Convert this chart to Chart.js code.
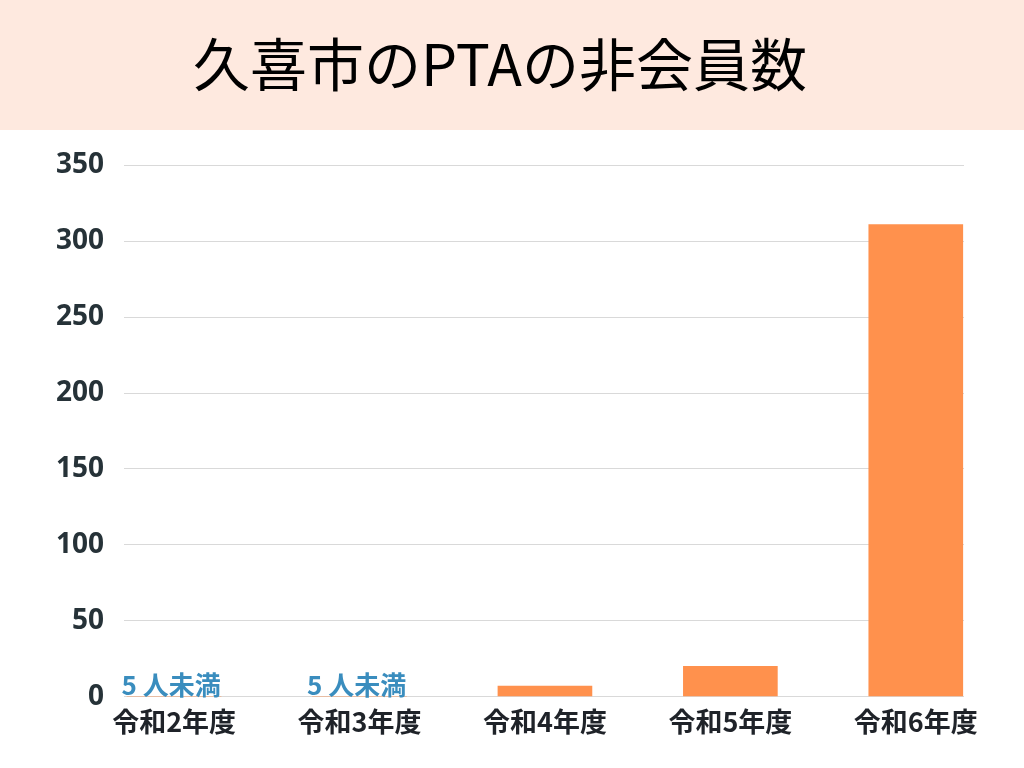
<!DOCTYPE html>
<html lang="ja">
<head>
<meta charset="utf-8">
<script src="https://cdn.jsdelivr.net/npm/chart.js@4/dist/chart.umd.min.js"></script>
<style>
  html, body { margin: 0; padding: 0; background: #fff; }
  #wrap { width: 1024px; height: 768px; }
</style>
</head>
<body>
<div id="wrap"><canvas id="kuki" width="1024" height="768"></canvas></div>
<script>
// 久喜市 PTA 非会員数
var years = ['令和2年度', '令和3年度', '令和4年度', '令和5年度', '令和6年度'];
var nonMembers = [0, 0, 7, 20, 311];
var notes = ['5 人未満', '5 人未満', '', '', ''];
var yTicks = [0, 50, 100, 150, 200, 250, 300, 350];

var titleText = '久喜市のPTAの非会員数';

// peach banner behind the title
var bannerPlugin = {
  id: 'banner',
  beforeDraw: function(chart){
    var ctx = chart.ctx;
    ctx.save();
    ctx.fillStyle = '#fee9df';
    ctx.fillRect(0, 0, chart.width, 130);
    ctx.restore();
  }
};

// "5人未満" notes sitting on the zero line
var notePlugin = {
  id: 'notes',
  afterDatasetsDraw: function(chart){
    var ctx = chart.ctx;
    var xs = chart.scales.x, ys = chart.scales.y;
    ctx.save();
    ctx.font = "bold 26px 'Noto Sans CJK JP'";
    ctx.fillStyle = '#3a8dbe';
    ctx.textAlign = 'center';
    ctx.textBaseline = 'bottom';
    notes.forEach(function(n, i){
      if (!n) return;
      ctx.fillText(n, xs.getPixelForValue(i) - 3, ys.getPixelForValue(0) + 2);
    });
    ctx.restore();
  }
};

var points = nonMembers.map(function(v, i){ return {x: i, y: v}; });

new Chart(document.getElementById('kuki'), {
  type: 'bar',
  data: {
    datasets: [{
      data: points,
      backgroundColor: '#ff914d',
      borderWidth: 0,
      barThickness: 94
    }]
  },
  options: {
    responsive: false,
    animation: false,
    layout: { padding: { left: 36, right: 60, top: 0, bottom: 29 } },
    plugins: {
      legend: { display: false },
      tooltip: { enabled: false },
      title: {
        display: true,
        text: titleText,
        color: '#000',
        font: { family: "'Noto Sans CJK JP'", size: 57, weight: 'normal' },
        padding: { top: 30, bottom: 67 }
      }
    },
    scales: {
      x: {
        type: 'linear',
        offset: false,
        min: -0.27,
        max: 4.26,
        grid: { display: false, offset: false },
        border: { display: false },
        ticks: {
          stepSize: 1,
          includeBounds: false,
          autoSkip: false,
          maxRotation: 0,
          padding: 1,
          color: '#1f2329',
          font: { family: "'Noto Sans CJK JP'", size: 27, weight: 'bold' },
          callback: function(v){ return Number.isInteger(v) ? years[v] : ''; }
        }
      },
      y: {
        min: 0,
        max: 350,
        grid: { color: '#d9d9d9', lineWidth: 1, drawTicks: false },
        border: { display: false },
        afterBuildTicks: function(axis){
          axis.ticks = yTicks.map(function(v){ return {value: v}; });
        },
        ticks: {
          padding: 20,
          color: '#263238',
          font: { family: "'Open Sans', 'Noto Sans CJK JP'", size: 28, weight: 'bold' }
        }
      }
    }
  },
  plugins: [bannerPlugin, notePlugin]
});
</script>
</body>
</html>
